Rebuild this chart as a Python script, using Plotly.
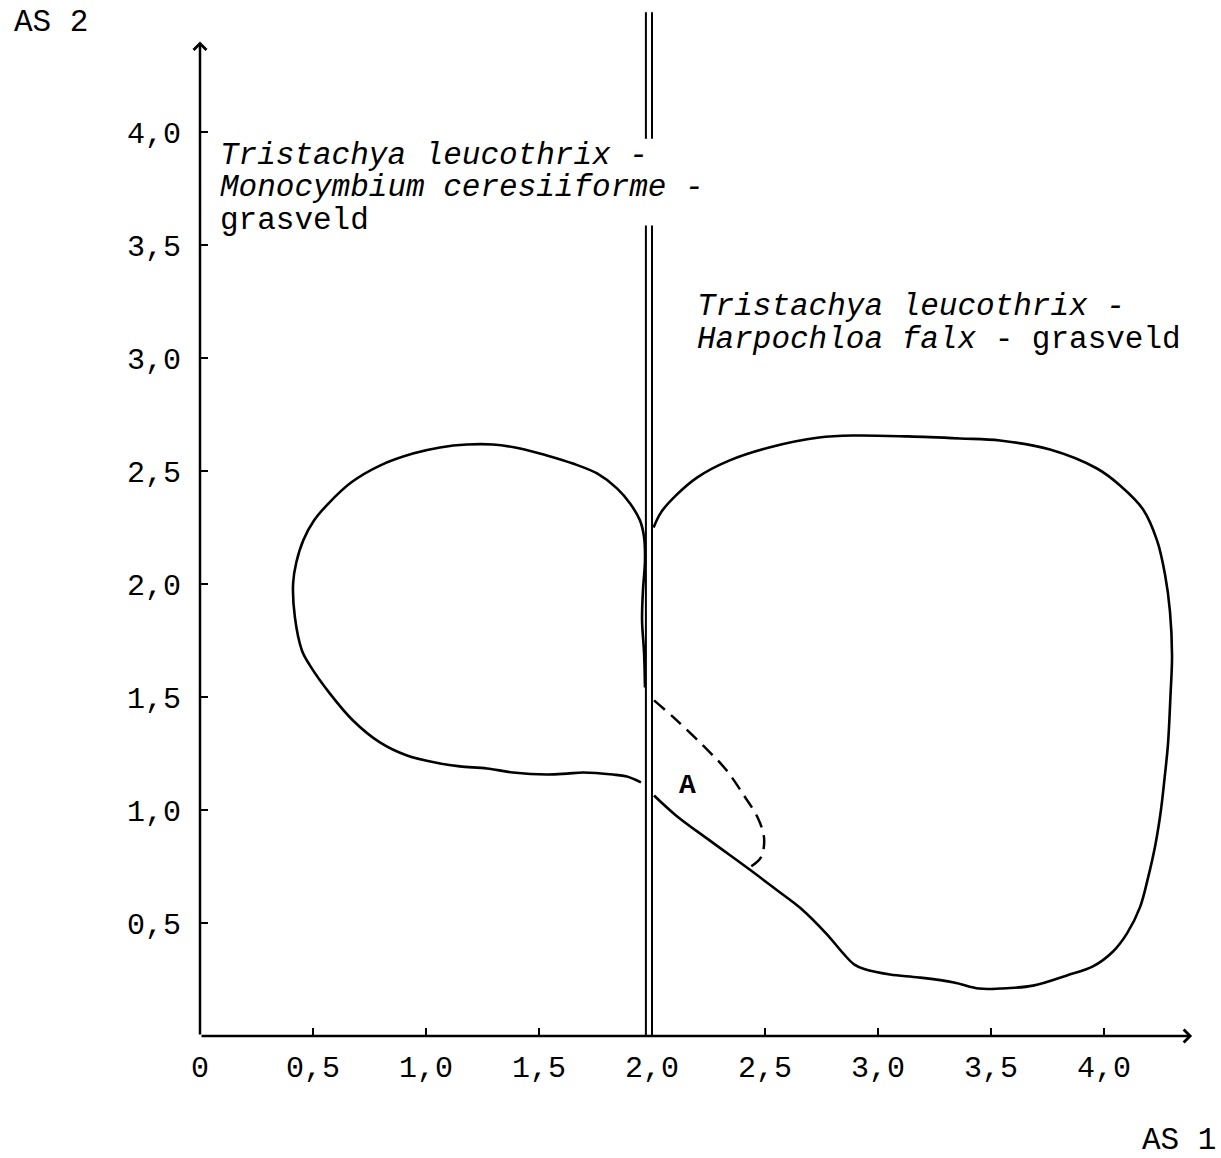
import plotly.graph_objects as go

# ---------------- data ----------------
x_tick_vals = [0, 0.5, 1.0, 1.5, 2.0, 2.5, 3.0, 3.5, 4.0]
x_tick_text = ["0", "0,5", "1,0", "1,5", "2,0", "2,5", "3,0", "3,5", "4,0"]
y_tick_vals = [0.5, 1.0, 1.5, 2.0, 2.5, 3.0, 3.5, 4.0]
y_tick_text = ["0,5", "1,0", "1,5", "2,0", "2,5", "3,0", "3,5", "4,0"]

# Tristachya leucothrix - Monocymbium ceresiiforme - grasveld (left envelope)
mono_x = [1.951, 1.889, 1.827, 1.695, 1.624, 1.535, 1.385, 1.270, 1.150, 1.062,
          0.916, 0.796, 0.677, 0.575, 0.487, 0.451, 0.420, 0.412, 0.426, 0.458,
          0.505, 0.568, 0.670, 0.796, 0.942, 1.062, 1.181, 1.296, 1.416, 1.535,
          1.650, 1.757, 1.845, 1.903, 1.947, 1.965, 1.969, 1.960, 1.956, 1.965,
          1.969]
mono_y = [1.122, 1.148, 1.157, 1.166, 1.161, 1.157, 1.166, 1.184, 1.193, 1.206,
          1.241, 1.299, 1.396, 1.515, 1.639, 1.706, 1.852, 2.002, 2.095, 2.196,
          2.282, 2.356, 2.450, 2.524, 2.577, 2.604, 2.617, 2.617, 2.600, 2.569,
          2.533, 2.489, 2.423, 2.356, 2.281, 2.206, 2.104, 1.971, 1.839, 1.693,
          1.542]

# Tristachya leucothrix - Harpochloa falx - grasveld (right envelope)
harp_x = [2.007, 2.040, 2.106, 2.199, 2.341, 2.518, 2.739, 2.894, 3.133, 3.363,
          3.540, 3.761, 3.969, 4.071, 4.173, 4.235, 4.270, 4.292, 4.301, 4.294,
          4.283, 4.269, 4.252, 4.228, 4.195, 4.159, 4.102, 4.040, 3.951, 3.836,
          3.686, 3.540, 3.447, 3.336, 3.181, 3.053, 2.942, 2.894, 2.850, 2.770,
          2.659, 2.549, 2.438, 2.261, 2.106, 2.009]
harp_y = [2.250, 2.317, 2.392, 2.471, 2.546, 2.604, 2.648, 2.657, 2.653, 2.644,
          2.635, 2.595, 2.511, 2.436, 2.330, 2.192, 2.042, 1.878, 1.684, 1.502,
          1.290, 1.150, 1.000, 0.850, 0.701, 0.569, 0.454, 0.374, 0.308, 0.268,
          0.223, 0.210, 0.210, 0.237, 0.259, 0.272, 0.295, 0.317, 0.361, 0.454,
          0.564, 0.648, 0.732, 0.861, 0.976, 1.064]

# Sub-group A (dashed)
a_x = [2.009, 2.106, 2.230, 2.327, 2.407, 2.469, 2.496, 2.482, 2.438]
a_y = [1.485, 1.400, 1.281, 1.179, 1.064, 0.963, 0.874, 0.790, 0.750]

# double boundary line between the two grassland types
boundary_x = [1.973, 2.0]
boundary_lower = [0.0, 3.586]
boundary_upper = [3.97, 4.53]

axis_end_x = 4.39
axis_end_y = 4.40

label_left = ["<i>Tristachya leucothrix -</i>",
              "<i>Monocymbium ceresiiforme -</i>",
              "grasveld"]
label_right = ["<i>Tristachya leucothrix -</i>",
               "<i>Harpochloa falx</i> - grasveld"]
x_title = "AS 1"
y_title = "AS 2"
group_label = "A"

# ---------------- figure ----------------
FONT = "Liberation Mono"
W, H = 1221, 1158
ML, MR, MT, MB = 200, 5, 0, 122
PX_PER_UNIT = 226.0
x_max = (W - ML - MR) / PX_PER_UNIT
y_max = (H - MT - MB) / PX_PER_UNIT

fig = go.Figure()

line_style = dict(color="black", width=2.6, shape="spline", smoothing=1.0)
fig.add_trace(go.Scatter(x=mono_x, y=mono_y, mode="lines", line=line_style,
                         showlegend=False, hoverinfo="skip"))
fig.add_trace(go.Scatter(x=harp_x, y=harp_y, mode="lines", line=line_style,
                         showlegend=False, hoverinfo="skip"))
fig.add_trace(go.Scatter(x=a_x, y=a_y, mode="lines",
                         line=dict(color="black", width=2.5, shape="spline",
                                   smoothing=1.0, dash="14px,8px"),
                         showlegend=False, hoverinfo="skip"))

for bx in boundary_x:
    fig.add_trace(go.Scatter(
        x=[bx, bx, None, bx, bx],
        y=[boundary_lower[0], boundary_lower[1], None,
           boundary_upper[0], boundary_upper[1]],
        mode="lines", line=dict(color="black", width=2),
        showlegend=False, hoverinfo="skip"))

# axes with open arrow heads
for (hx, hy) in [(0, axis_end_y), (axis_end_x, 0)]:
    fig.add_annotation(x=hx, y=hy, ax=0, ay=0, xref="x", yref="y",
                       axref="x", ayref="y", text="", showarrow=True,
                       arrowhead=4, arrowsize=1.0, arrowwidth=2.5,
                       arrowcolor="black", standoff=0, startstandoff=0)

txt_font = dict(family=FONT, size=31, color="black")
left_y = [3.896, 3.753, 3.609]
for t, yy in zip(label_left, left_y):
    fig.add_annotation(x=0.080, y=yy, xref="x", yref="y", text=t,
                       showarrow=False, xanchor="left", yanchor="middle",
                       font=txt_font)
right_y = [3.226, 3.082]
for t, yy in zip(label_right, right_y):
    fig.add_annotation(x=2.190, y=yy, xref="x", yref="y", text=t,
                       showarrow=False, xanchor="left", yanchor="middle",
                       font=txt_font)

fig.add_annotation(x=2.159, y=1.108, xref="x", yref="y", text=group_label,
                   showarrow=False, xanchor="center", yanchor="middle",
                   font=dict(family=FONT, size=28, color="black", weight="bold"))

# axis names lie outside the plotting area -> place in paper fractions
fig.add_annotation(x=-0.832 / x_max, y=4.485 / y_max, xref="paper", yref="paper",
                   text=y_title, showarrow=False, xanchor="left",
                   yanchor="middle", font=txt_font)
fig.add_annotation(x=4.159 / x_max, y=-0.463 / y_max, xref="paper", yref="paper",
                   text=x_title, showarrow=False, xanchor="left",
                   yanchor="middle", font=txt_font)

fig.update_layout(
    width=W, height=H,
    margin=dict(l=ML, r=MR, t=MT, b=MB, autoexpand=False),
    paper_bgcolor="white", plot_bgcolor="white",
    xaxis=dict(range=[0, x_max], tickvals=x_tick_vals, ticktext=x_tick_text,
               ticks="inside", ticklen=8, tickwidth=2, tickcolor="black",
               showgrid=False, zeroline=False, showline=False,
               ticklabelstandoff=10,
               tickfont=dict(family=FONT, size=30, color="black")),
    yaxis=dict(range=[0, y_max], tickvals=y_tick_vals, ticktext=y_tick_text,
               ticks="inside", ticklen=8, tickwidth=2, tickcolor="black",
               showgrid=False, zeroline=False, showline=False,
               ticklabelstandoff=18,
               tickfont=dict(family=FONT, size=30, color="black")),
)

fig.write_html("out.html")
